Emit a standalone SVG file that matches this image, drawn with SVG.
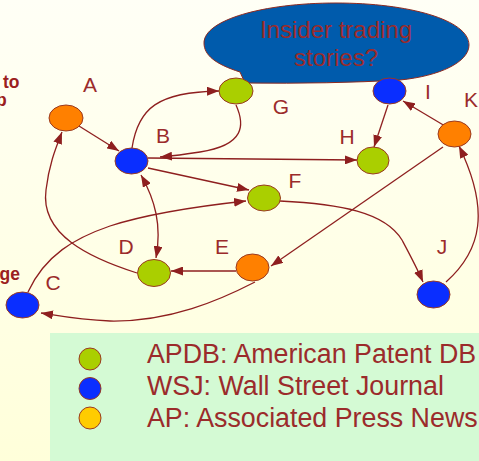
<svg xmlns="http://www.w3.org/2000/svg" width="479" height="461" viewBox="0 0 479 461">
<defs>
<linearGradient id="bg" x1="0" y1="0" x2="0" y2="1">
<stop offset="0" stop-color="#FFFFF6"/>
<stop offset="1" stop-color="#FFFFDA"/>
</linearGradient>
<marker id="ah" viewBox="0 0 12 9" refX="12" refY="4.5" markerWidth="12" markerHeight="9" markerUnits="userSpaceOnUse" orient="auto-start-reverse">
<path d="M0,0 L12,4.5 L0,9 Z" fill="#8E1F1F"/>
</marker>
</defs>
<style>
.lbl{font-family:"Liberation Sans",Arial,sans-serif;font-size:21px;fill:#9B2B2B;text-anchor:middle}
.side{font-family:"Liberation Sans",Arial,sans-serif;font-size:17.5px;font-weight:bold;fill:#9B2020}
.leg{font-family:"Liberation Sans",Arial,sans-serif;font-size:26.8px;fill:#9B2B2B}
.bub{font-family:"Liberation Sans",Arial,sans-serif;font-size:24px;fill:#9B2B2B;text-anchor:middle}
ellipse,circle{stroke:#9A3A22;stroke-width:1}
.g{fill:#AACF00}.b{fill:#0A2EFF}.o{fill:#FF8000}.y{fill:#FFCC00}
#edges path,#edges line{fill:none;stroke:#8E1F1F;stroke-width:1.3}
</style>
<rect x="0" y="0" width="479" height="461" fill="url(#bg)"/>
<rect x="50" y="333" width="429" height="128" fill="#D4FAD4"/>

<text class="side" x="3" y="88">to</text>
<text class="side" x="-4" y="106">p</text>
<text class="side" x="20" y="280" text-anchor="end">ge</text>

<g id="bubble">
<path d="M240,72 C215,64 204,55 204,43 C204,20 263,3 336,3 C409,3 469,20 469,45 C469,62 440,76 400,80 Q330,84 245,83 Z" fill="#005BAC" stroke="#8E2A20" stroke-width="1"/>
<text class="bub" x="336" y="38">Insider trading</text>
<text class="bub" x="336" y="66">stories?</text>
</g>

<g id="edges">
<line x1="79" y1="126" x2="119" y2="151" marker-end="url(#ah)"/>
<path d="M132,148 C138,108 158,92 219,91" marker-end="url(#ah)"/>
<path d="M236,105 C245,125 245,145 200,152 C185,154 175,156 160,157" marker-end="url(#ah)"/>
<line x1="148" y1="158" x2="357" y2="160" marker-end="url(#ah)"/>
<line x1="148" y1="168" x2="249" y2="190" marker-end="url(#ah)"/>
<path d="M141,175 C155,200 162,225 156,258" marker-start="url(#ah)" marker-end="url(#ah)"/>
<path d="M137,273 C90,258 40,235 46,190 C49,165 55,150 62,132" marker-end="url(#ah)"/>
<line x1="236" y1="271" x2="171" y2="271" marker-end="url(#ah)"/>
<path d="M255,282 C220,300 170,322 110,321 C80,320 60,316 41,313" marker-end="url(#ah)"/>
<path d="M28,292 C45,255 75,238 110,226 C150,213 200,206 246,201" marker-end="url(#ah)"/>
<line x1="443" y1="147" x2="271" y2="266" marker-end="url(#ah)"/>
<line x1="445" y1="126" x2="403" y2="101" marker-end="url(#ah)"/>
<line x1="388" y1="105" x2="374" y2="147" marker-end="url(#ah)"/>
<path d="M280,201 C340,204 385,212 402,240 C410,255 417,268 423,282" marker-end="url(#ah)"/>
<path d="M446,282 C482,250 490,210 459,146" marker-end="url(#ah)"/>
</g>

<g id="A"><ellipse class="o" cx="66" cy="118" rx="17" ry="13"/><text class="lbl" x="90" y="92">A</text></g>
<g id="B"><ellipse class="b" cx="131.5" cy="161" rx="16.5" ry="13"/><text class="lbl" x="163" y="143">B</text></g>
<g id="C"><ellipse class="b" cx="22.5" cy="305" rx="16.5" ry="13"/><text class="lbl" x="53" y="290">C</text></g>
<g id="D"><ellipse class="g" cx="154" cy="273" rx="16.5" ry="13.5"/><text class="lbl" x="126" y="254">D</text></g>
<g id="E"><ellipse class="o" cx="252.5" cy="267.5" rx="16.5" ry="13.5"/><text class="lbl" x="222" y="254">E</text></g>
<g id="F"><ellipse class="g" cx="264" cy="198" rx="16.5" ry="13"/><text class="lbl" x="295" y="188">F</text></g>
<g id="G"><ellipse class="g" cx="236" cy="91" rx="17" ry="13"/><text class="lbl" x="281" y="114">G</text></g>
<g id="H"><ellipse class="g" cx="373" cy="160.5" rx="16" ry="13.5"/><text class="lbl" x="347" y="144">H</text></g>
<g id="I"><ellipse class="b" cx="389.5" cy="91" rx="16.5" ry="13"/><text class="lbl" x="428" y="99">I</text></g>
<g id="J"><ellipse class="b" cx="433.5" cy="294.5" rx="16.5" ry="13.5"/><text class="lbl" x="442" y="254">J</text></g>
<g id="K"><ellipse class="o" cx="454.5" cy="134" rx="16.5" ry="13"/><text class="lbl" x="471" y="107">K</text></g>

<g id="legend">
<circle class="g" cx="90" cy="359" r="11"/>
<circle class="b" cx="90" cy="388.5" r="11"/>
<circle class="y" cx="90" cy="418" r="11"/>
<text class="leg" x="147" y="363">APDB: American Patent DB</text>
<text class="leg" x="147" y="395">WSJ: Wall Street Journal</text>
<text class="leg" x="147" y="427">AP: Associated Press News</text>
</g>
</svg>
